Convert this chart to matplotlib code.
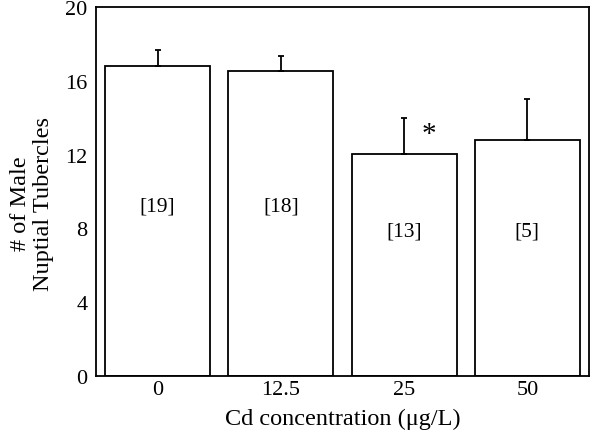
import numpy as np
import matplotlib.pyplot as plt

plt.rcParams['font.family'] = ['Liberation Serif', 'DejaVu Serif']

conc = ['0', '12.5', '25', '50']
means = [16.8, 16.55, 12.05, 12.8]
sem = [0.87, 0.8, 1.93, 2.22]
n_labels = ['[19]', '[18]', '[13]', '[5]']
label_y = [9.2, 9.2, 7.85, 7.85]

fig = plt.figure(figsize=(6, 4.39), dpi=100)
ax = fig.add_axes([96/600, 1 - 377/439, 493/600, 369/439])

x = np.arange(len(conc))
ax.bar(x, means, width=0.85, color='white', edgecolor='black', lw=1.3,
       yerr=[np.zeros(len(sem)), sem], capsize=2.2,
       error_kw=dict(ecolor='black', elinewidth=1.3, capthick=1.3))

for xi, lab, ly in zip(x, n_labels, label_y):
    ax.text(xi, ly, lab, ha='center', va='center', fontsize=15.5)

# significance marker
ax.text(2.2, 13.1, '*', ha='center', va='center', fontsize=21)

ax.set_xlim(-0.5, 3.5)
ax.set_ylim(0, 20)
ax.set_yticks([0, 4, 8, 12, 16, 20])
ax.set_xticks(x)
ax.set_xticklabels(conc)
ax.tick_params(length=0, labelsize=16)
ax.tick_params(axis='x', pad=3)
ax.tick_params(axis='y', pad=6)
for s in ax.spines.values():
    s.set_linewidth(1.3)

ax.set_xlabel('Cd concentration (\u03bcg/L)', fontsize=17.5, labelpad=6)
ax.set_ylabel('# of Male\nNuptial Tubercles', fontsize=17.5, linespacing=1.1)
ax.yaxis.set_label_coords(-0.085, 0.47)

plt.savefig('out.png', dpi=100)
